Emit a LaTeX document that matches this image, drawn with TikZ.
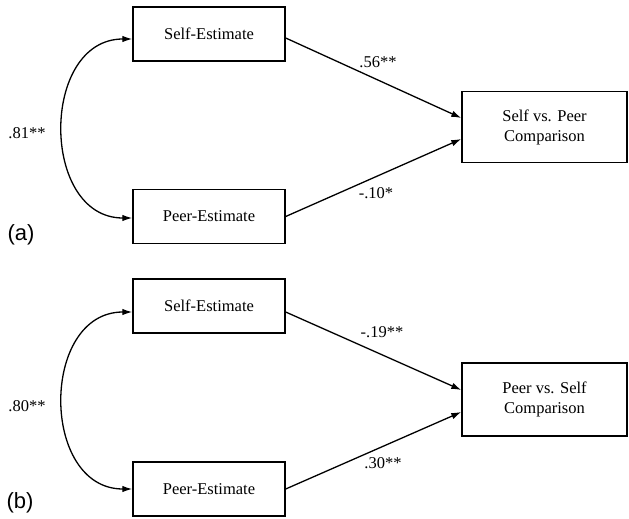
\documentclass[tikz,border=0pt]{standalone}
\usepackage{fontspec}
\setmainfont{Liberation Serif}
\newfontfamily\labfont{Liberation Sans}
\usetikzlibrary{arrows.meta}
\begin{document}
\begin{tikzpicture}[x=1pt,y=-1pt,
  varbox/.style={draw,line width=1.4pt,minimum width=152pt,minimum height=54pt,inner sep=0pt,font=\fontsize{16.5}{20}\selectfont},
  outbox/.style={draw,line width=1.4pt,minimum width=165pt,minimum height=71pt,inner sep=0pt,align=center,font=\fontsize{16.5}{20}\selectfont},
  path/.style={line width=1.3pt,-{Latex[length=10pt,width=6.5pt]}},
  corr/.style={line width=1.3pt,{Latex[length=10pt,width=6.5pt]}-{Latex[length=10pt,width=6.5pt]}},
  coef/.style={font=\fontsize{16.5}{20}\selectfont,inner sep=0pt},
  panel/.style={font=\labfont\fontsize{22}{24}\selectfont,inner sep=0pt}]
\useasboundingbox (0,0) rectangle (629,519);
% panel (a)
\node[varbox] (Sa) at (209,34) {Self-Estimate};
\node[varbox] (Pa) at (209,216.5) {Peer-Estimate};
\node[outbox] (Ca) at (544.5,127) {Self vs. Peer\\Comparison};
\draw[path] ([yshift=-4pt]Sa.east) -- ([yshift=9pt]Ca.west);
\draw[path] (Pa.east) -- ([yshift=-12pt]Ca.west);
\draw[corr] ([yshift=-5pt]Sa.west) .. controls (40,39) and (40,218) .. ([yshift=-1.5pt]Pa.west);
\node[coef] (ra) at (27,133) {.81**};
\node[coef] (s1) at (378,62) {.56**};
\node[coef] (p1) at (376,193) {-.10*};
\node[panel] (la) at (21,235) {(a)};
% panel (b)
\node[varbox] (Sb) at (209,306) {Self-Estimate};
\node[varbox] (Pb) at (209,489) {Peer-Estimate};
\node[outbox,minimum height=73pt] (Cb) at (544.5,399.5) {Peer vs. Self\\Comparison};
\draw[path] ([yshift=-6pt]Sb.east) -- ([yshift=9.5pt]Cb.west);
\draw[path] (Pb.east) -- ([yshift=-12.5pt]Cb.west);
\draw[corr] ([yshift=-6pt]Sb.west) .. controls (40,312) and (40,489) .. (Pb.west);
\node[coef] (rb) at (27,406) {.80**};
\node[coef] (s2) at (382,332) {-.19**};
\node[coef] (p2) at (383,463) {.30**};
\node[panel] (lb) at (20,503) {(b)};
\end{tikzpicture}
\end{document}
